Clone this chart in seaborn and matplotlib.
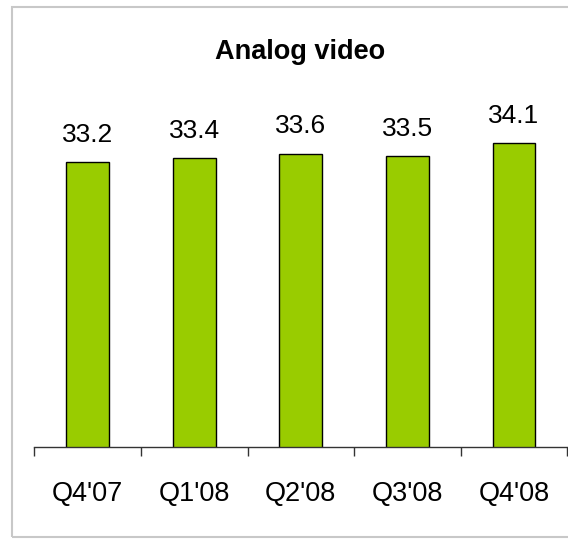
import matplotlib
matplotlib.use("Agg")
import matplotlib.pyplot as plt
import matplotlib.patches as mpatches
import pandas as pd
import seaborn as sns

# Chart data
quarters = ["Q4'07", "Q1'08", "Q2'08", "Q3'08", "Q4'08"]
values = [33.2, 33.4, 33.6, 33.5, 34.1]
title = "Analog video"

df = pd.DataFrame({'quarter': quarters, 'value': values})

sns.set_style("white")
plt.rcParams['font.family'] = ['Liberation Sans', 'DejaVu Sans']

fig = plt.figure(figsize=(5.68, 5.39), dpi=100)
ax = fig.add_axes([34.3 / 568, 91.7 / 539, 533 / 568, 345.6 / 539])

sns.barplot(data=df, x='quarter', y='value', color='#99CC00', width=0.4,
            edgecolor='black', linewidth=1, saturation=1, ax=ax)

ax.set_ylim(20, 36)
ax.set_xlim(-0.5, len(quarters) - 0.5)

# value labels above bars
for i, v in enumerate(values):
    ax.annotate(f"{v:.1f}", (i, v), xytext=(0, 19.5), textcoords='offset points',
                ha='center', va='center', fontsize=19, color='black')

# ticks at category boundaries, labels at centres
ax.set_xticks([i - 0.5 for i in range(len(quarters) + 1)])
ax.set_xticklabels([])
ax.set_xticks(range(len(quarters)), minor=True)
ax.set_xticklabels(quarters, minor=True, fontsize=19.5, color='black')
ax.tick_params(axis='x', which='major', length=6.5, width=1, color='#333333',
               direction='out', bottom=True)
ax.tick_params(axis='x', which='minor', length=0, pad=24)
ax.set_yticks([])
ax.set_xlabel('')
ax.set_ylabel('')
for s in ['top', 'right', 'left']:
    ax.spines[s].set_visible(False)
ax.spines['bottom'].set_color('#333333')
ax.spines['bottom'].set_linewidth(1)

fig.text(300 / 568, 1 - 52 / 539, title, ha='center', va='center',
         fontsize=19.5, fontweight='bold', color='black')

# light grey frame around the chart
frame = mpatches.Rectangle((12 / 568, 2 / 539), 0.99, 1 - 9 / 539, transform=fig.transFigure,
                           fill=False, edgecolor='#c8c8c8', linewidth=1.5)
fig.patches.append(frame)

fig.savefig('out.png', dpi=100)
